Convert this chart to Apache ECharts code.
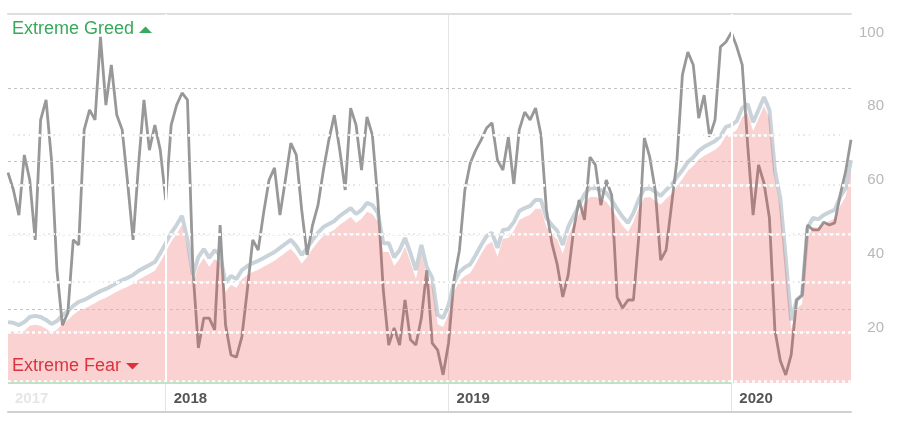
<!DOCTYPE html>
<html>
<head>
<meta charset="utf-8">
<script src="https://cdn.jsdelivr.net/npm/echarts@6/dist/echarts.min.js"></script>
<style>
html,body{margin:0;padding:0;background:#fff;}
#chart{width:912px;height:426px;}
</style>
</head>
<body>
<div id="chart"></div>
<script>
// Weekly series, first week starting 2017-06-12
const startDate = '2017-06-12';

// Fear & Greed index (grey line)
const fearGreed = [
  62, 57.3, 50.5, 66.8, 60, 43.8, 76.3, 81.7, 65.4, 35.6,
  20.7, 24, 43.8, 42.4, 73.6, 79, 76.3, 98.8, 80.3, 91.2,
  77.6, 73.6, 59.2, 43.8, 64.1, 81.7, 68.1, 74.9, 68.1, 54.6,
  74.9, 80.3, 83.6, 81.7, 35.6, 14.5, 22.6, 22.6, 19.4, 47.8,
  20.7, 12.6, 12, 17.5, 30.2, 43.8, 41, 51.1, 60, 63.3,
  50.5, 60, 70, 66.8, 51.9, 39.7, 47.8, 53.2, 62.7, 70.9,
  77.6, 68.1, 57.3, 79.5, 74.9, 62.7, 77.1, 72.2, 54.6, 30.2,
  15.3, 19.9, 15.3, 27.5, 16.7, 15.3, 22.6, 35.6, 15.8, 13.9,
  7.2, 15.8, 32.9, 41, 57.3, 64.6, 68.1, 70.9, 74.1, 75.5,
  65.4, 62.7, 71.7, 58.7, 73.6, 78.4, 76.3, 79.5, 72.2, 51.9,
  42.9, 37, 28.3, 34.3, 46.5, 54.6, 49.2, 66.2, 64.1, 53.2,
  60, 55.9, 28.3, 25.3, 27.5, 27.5, 45.1, 71.4, 66.2, 57.3,
  38.3, 41, 53.2, 65.4, 88.5, 94.7, 91.2, 76.8, 83, 71.7,
  76.3, 96.1, 97.4, 100, 96.1, 91.2, 69.5, 50.5, 64.1, 59.2,
  49.7, 19.4, 11, 7.2, 12.6, 27.5, 28.8, 47.8, 46.5, 46.5,
  48.6, 47.8, 48.4, 55.9, 62.2, 70.9
];

// Market trend (light blue-grey line, pink area beneath)
const marketTrend = [
  21.5, 21.3, 20.7, 21.5, 22.9, 23.2, 22.9, 22.1, 21, 21.8,
  23.4, 24.5, 25.9, 27, 27.5, 28.3, 29.1, 29.9, 30.5, 31.3,
  32.1, 32.9, 33.5, 34.3, 35.4, 36.2, 37, 37.8, 40.2, 42.9,
  45.7, 47.8, 50.3, 43.8, 34.3, 39.1, 41.3, 38.9, 41, 39.7,
  32.1, 34, 33.2, 35.6, 36.7, 37.5, 38.1, 38.9, 39.7, 40.5,
  41.6, 42.7, 43.8, 42.1, 39.7, 41.6, 43.8, 45.7, 47.3, 48.1,
  48.9, 50.3, 51.3, 52.4, 50.8, 51.9, 53.8, 53.2, 51.1, 42.9,
  42.9, 39.1, 41, 44.3, 40.2, 35.6, 42.4, 36.4, 33.5, 23.4,
  22.6, 26.1, 32.1, 35.1, 36.4, 37.2, 39.7, 42.4, 44.8, 45.7,
  41.6, 46.5, 46.7, 48.6, 51.6, 52.4, 53, 54.6, 54.6, 49.7,
  47.8, 46.2, 42.4, 47.3, 50.3, 53.2, 56.2, 57.8, 57.8, 57.3,
  56.5, 54.6, 52.2, 50, 48.4, 51.1, 54.9, 57.6, 57.8, 56.8,
  55.7, 57.3, 58.7, 60.8, 62.7, 64.9, 66.2, 67.9, 69, 69.8,
  70.6, 71.9, 74.4, 74.9, 76, 79.5, 80.6, 75.7, 79, 82.5,
  79, 62.7, 55, 38.8, 22, 27.5, 28.8, 47, 49.7, 49.4,
  50.5, 51.3, 51.9, 55.4, 57.8, 65.4
];

const yTickLabels = [20, 40, 60, 80, 100];
const dashedGridValues = [25, 45, 65, 85];
const dottedGridValues = [72.2, 58.7, 45.4, 32.4, 18.8, 5.5];

// weekly category dates
const categories = [];
(function () {
  const t0 = Date.parse(startDate + 'T00:00:00Z');
  for (let i = 0; i < fearGreed.length; i++) {
    categories.push(new Date(t0 + i * 7 * 86400000).toISOString().slice(0, 10));
  }
})();
function yearOfWeek(v) {
  const t = Date.parse(v + 'T00:00:00Z') + 6 * 86400000;
  return new Date(t).getUTCFullYear();
}
function isYearStart(v) {
  const y0 = Number(v.slice(0, 4));
  return yearOfWeek(v) !== y0 || v.slice(5) === '01-01';
}
const yearStartCats = categories.filter(isYearStart);

const FONT = '"Liberation Sans", Arial, Helvetica, sans-serif';
const chart = echarts.init(document.getElementById('chart'), null, { renderer: 'canvas' });

const option = {
  animation: false,
  backgroundColor: '#ffffff',
  grid: [
    { left: 8, right: 61, top: 14, bottom: 43 },
    { left: 8, right: 61, top: 14, bottom: 14 }
  ],
  xAxis: [
    {
      gridIndex: 0, type: 'category', data: categories, boundaryGap: false, position: 'top',
      axisLine: { show: true, lineStyle: { color: '#dedede', width: 2 } },
      axisTick: { show: false }, axisLabel: { show: false }, splitLine: { show: false }
    },
    {
      gridIndex: 1, type: 'category', data: categories, boundaryGap: false, position: 'bottom',
      axisLine: { show: true, lineStyle: { color: '#d0d0d0', width: 2 } },
      axisTick: { show: false, interval: (i, v) => isYearStart(v) },
      axisLabel: {
        inside: true, margin: 6, align: 'left',
        interval: (i, v) => i === 0 || isYearStart(v),
        formatter: (v, i) => i === 0 ? '{f|' + v.slice(0, 4) + '}' : '{y|' + yearOfWeek(v) + '}',
        rich: {
          f: { color: '#e6e6e6', fontSize: 15, fontFamily: FONT, fontWeight: 'bold', padding: [0, 0, 0, 7] },
          y: { color: '#555555', fontSize: 15, fontFamily: FONT, fontWeight: 'bold', padding: [0, 0, 0, 8] }
        }
      },
      splitLine: { show: true, interval: (i, v) => isYearStart(v), lineStyle: { color: '#e4e4e4', width: 1 } }
    }
  ],
  yAxis: [
    {
      gridIndex: 0, type: 'value', min: 5, max: 105, interval: 5, position: 'right',
      axisLine: { show: false }, axisTick: { show: false }, splitLine: { show: false },
      axisLabel: {
        formatter: v => yTickLabels.indexOf(v) >= 0 ? String(v) : '',
        color: '#b8b8b8', fontSize: 15, fontFamily: FONT, align: 'right', margin: 33
      }
    },
    { gridIndex: 0, type: 'value', min: 7.4, max: 107.4, show: false },
    { gridIndex: 1, type: 'value', show: false }
  ],
  series: [
    {
      name: 'gridBack', type: 'line', xAxisIndex: 0, yAxisIndex: 0, data: [], z: 1, silent: true,
      markLine: {
        silent: true, symbol: 'none', label: { show: false }, animation: false,
        data: [
          ...dashedGridValues.map(v => ({ yAxis: v, lineStyle: { color: '#c2c2c2', width: 1, type: [3, 3] } })),
          ...dottedGridValues.slice(0, 5).map(v => ({ yAxis: v, lineStyle: { color: '#e8e8e8', width: 2, type: [2, 3] } }))
        ]
      }
    },
    {
      name: 'Market', type: 'line', xAxisIndex: 0, yAxisIndex: 0, data: marketTrend,
      symbol: 'none', z: 2, lineStyle: { color: '#c9d3d9', width: 4 }
    },
    {
      name: 'Fear & Greed', type: 'line', xAxisIndex: 0, yAxisIndex: 0, data: fearGreed,
      symbol: 'none', z: 3, lineStyle: { color: '#989898', width: 2.8 }
    },
    {
      name: 'MarketArea', type: 'line', xAxisIndex: 0, yAxisIndex: 1, data: marketTrend,
      symbol: 'none', z: 4, lineStyle: { width: 0, opacity: 0 },
      areaStyle: { color: 'rgba(235,60,60,0.23)', origin: 'start', opacity: 1 }
    },
    {
      name: 'gridFront', type: 'line', xAxisIndex: 0, yAxisIndex: 0, data: [], z: 5, silent: true,
      markLine: {
        silent: true, symbol: 'none', label: { show: false }, animation: false,
        data: [
          ...dottedGridValues.map(v => ({ yAxis: v, lineStyle: { color: '#ffffff', width: 2.5, type: [3, 3], opacity: 0.95 } })),
          { xAxis: yearStartCats[0], lineStyle: { color: '#ffffff', width: 2, type: 'solid' } },
          { xAxis: yearStartCats[2], lineStyle: { color: '#ffffff', width: 2, type: 'solid' } },
          [
            { coord: [categories[0], 5], lineStyle: { color: '#bfe3c7', width: 2, type: 'solid' } },
            { coord: [yearStartCats[2], 5] }
          ]
        ]
      }
    }
  ],
  graphic: [
    { type: 'text', left: 12, top: 20, style: { text: 'Extreme Greed', fill: '#38a85a', font: '18px ' + FONT } },
    { type: 'polygon', shape: { points: [[139, 33], [152, 33], [145.5, 26.5]] }, style: { fill: '#38a85a' } },
    { type: 'text', left: 12, top: 357, style: { text: 'Extreme Fear', fill: '#d8303f', font: '18px ' + FONT } },
    { type: 'polygon', shape: { points: [[126, 363], [139, 363], [132.5, 369.5]] }, style: { fill: '#d8303f' } }
  ]
};
chart.setOption(option);
</script>
</body>
</html>
